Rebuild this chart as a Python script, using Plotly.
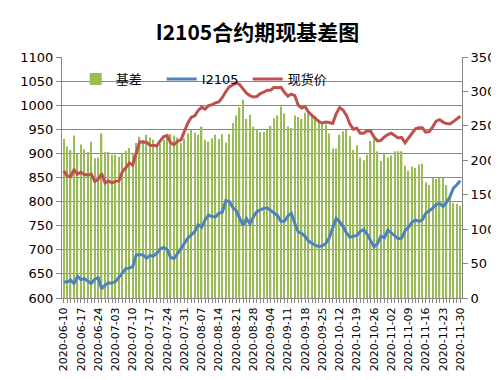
import pandas as pd
import plotly.graph_objects as go

# Trading days (categories)
holidays = ["2020-06-25", "2020-06-26", "2020-10-01", "2020-10-02",
            "2020-10-05", "2020-10-06", "2020-10-07", "2020-10-08"]
dates = [d.strftime("%Y-%m-%d") for d in pd.bdate_range("2020-06-10", "2020-11-30")
         if d.strftime("%Y-%m-%d") not in holidays]
tick_labels = dates[::5]

# 现货价 (spot price)
spot = [864, 853, 852, 866, 857, 861, 856, 855, 857, 842,
        846, 858, 839, 843, 839, 842, 843, 862, 870, 880,
        876, 900, 924, 923, 923, 917, 917, 916, 926, 935,
        937, 922, 918, 925, 928, 944, 963, 975, 978, 989,
        996, 992, 999, 1001, 1005, 1007, 1016, 1028, 1038, 1042,
        1046, 1043, 1033, 1025, 1020, 1017, 1018, 1024, 1027, 1031,
        1031, 1037, 1036, 1037, 1027, 1019, 1023, 1020, 1000, 994,
        997, 986, 979, 973, 966, 963, 965, 964, 962, 982,
        995, 990, 979, 961, 950, 952, 942, 942, 947, 946,
        934, 926, 927, 934, 939, 942, 937, 932, 933, 922,
        932, 942, 951, 953, 953, 944, 945, 955, 967, 970,
        965, 962, 961, 966, 972, 977]

# I2105 futures
i2105 = [633, 633, 637, 630, 645, 638, 640, 634, 630, 639,
         642, 619, 627, 631, 631, 634, 643, 652, 661, 662,
         665, 689, 690, 689, 683, 688, 687, 693, 702, 705,
         700, 684, 682, 692, 703, 712, 724, 731, 738, 752,
         747, 762, 772, 769, 768, 776, 778, 802, 800, 788,
         781, 766, 751, 765, 754, 768, 779, 783, 786, 787,
         781, 776, 771, 759, 759, 770, 776, 755, 737, 734,
         728, 718, 713, 709, 707, 708, 713, 725, 745, 765,
         758, 748, 735, 726, 728, 730, 738, 742, 732, 718,
         706, 713, 728, 725, 741, 735, 729, 723, 724, 740,
         747, 757, 762, 759, 762, 776, 781, 786, 794, 796,
         790, 798, 810, 828, 835, 843]

# 基差 (basis)
basis = [231, 220, 215, 236, 210, 223, 216, 212, 227, 203,
         204, 239, 212, 212, 208, 208, 205, 210, 214, 218,
         211, 225, 234, 230, 237, 233, 230, 223, 224, 230,
         237, 238, 236, 233, 225, 232, 239, 244, 240, 237,
         249, 230, 227, 232, 237, 231, 238, 226, 238, 254,
         265, 277, 288, 260, 266, 249, 245, 241, 241, 244,
         250, 261, 265, 278, 268, 249, 247, 265, 263, 260,
         269, 268, 266, 264, 259, 255, 252, 239, 217, 217,
         237, 242, 244, 235, 215, 222, 204, 200, 208, 228,
         231, 213, 199, 209, 204, 207, 213, 213, 213, 192,
         185, 191, 189, 194, 195, 168, 164, 175, 173, 174,
         175, 164, 151, 138, 137, 134]

GRID = "#868686"
FONT = "DejaVu Sans, Noto Sans CJK SC, sans-serif"

fig = go.Figure()
fig.add_trace(go.Bar(x=dates, y=basis, name="基差", marker_color="#9BBB59",
                     marker_line_width=0, yaxis="y"))
fig.add_trace(go.Scatter(x=dates, y=i2105, name="I2105", mode="lines",
                         line=dict(color="#4F81BD", width=3), yaxis="y2"))
fig.add_trace(go.Scatter(x=dates, y=spot, name="现货价", mode="lines",
                         line=dict(color="#C0504D", width=3), yaxis="y2"))

ticktext = [d if d in tick_labels else "" for d in dates]

fig.update_layout(
    width=499, height=380,
    margin=dict(l=48, r=43, t=49, b=90),
    paper_bgcolor="white", plot_bgcolor="white",
    font=dict(family=FONT, size=13, color="black"),
    title=dict(text="<b>I2105合约期现基差图</b>", x=0.5, xref="container",
               xanchor="center", y=0.935, yref="container", yanchor="middle",
               font=dict(size=21, family="Noto Sans CJK SC, DejaVu Sans", color="black")),
    bargap=0.6,
    showlegend=True,
    legend=dict(orientation="h", x=(62 - 48) / 408, y=(290 - 71) / 241,
                xanchor="left", yanchor="middle", bgcolor="rgba(0,0,0,0)",
                font=dict(size=13, family=FONT), entrywidth=41,
                traceorder="normal"),
    xaxis=dict(type="category", range=[-0.5, len(dates) - 0.5],
               tickmode="array", tickvals=dates, ticktext=ticktext,
               tickangle=-90, tickfont=dict(size=11),
               ticks="outside", ticklen=4, tickcolor=GRID,
               showline=True, linecolor=GRID, linewidth=1, showgrid=False),
    yaxis=dict(range=[0, 350], dtick=50, side="right", showgrid=False,
               ticks="outside", ticklen=5, tickcolor=GRID,
               showline=True, linecolor=GRID, linewidth=1,
               tickfont=dict(size=13), zeroline=False),
    yaxis2=dict(range=[600, 1100], dtick=50, side="left", overlaying="y",
                showgrid=True, gridcolor=GRID, gridwidth=1,
                ticks="outside", ticklen=5, tickcolor=GRID,
                showline=True, linecolor=GRID, linewidth=1,
                tickfont=dict(size=13), zeroline=False),
    shapes=[dict(type="line", xref="paper", yref="paper",
                 x0=-48 / 408, x1=(499 - 48) / 408,
                 y0=-(378.5 - 290) / 241, y1=-(378.5 - 290) / 241,
                 line=dict(color=GRID, width=1.5))],
)

fig.write_html("out.html")
